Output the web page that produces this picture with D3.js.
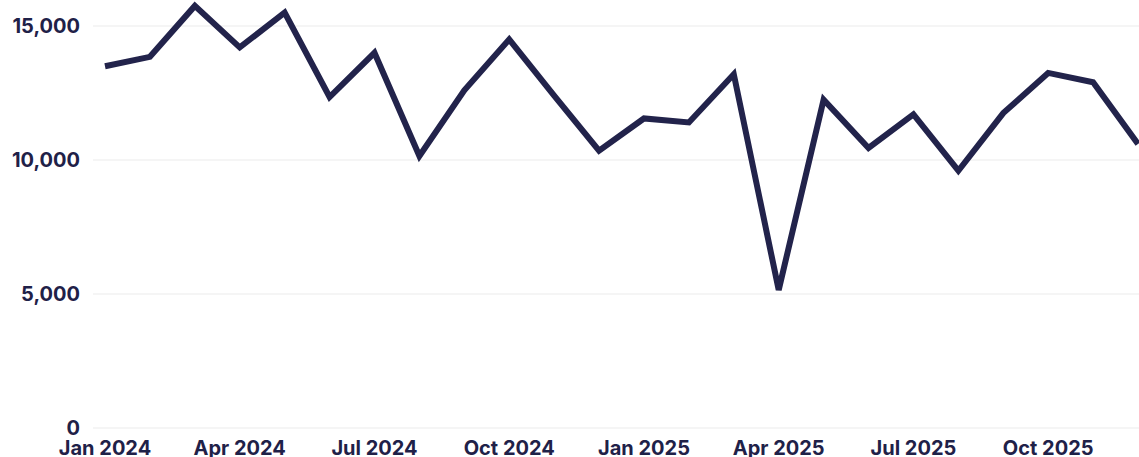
<!DOCTYPE html>
<html>
<head>
<meta charset="utf-8">
<script src="https://cdn.jsdelivr.net/npm/d3@7"></script>
<style>
  html, body { margin: 0; padding: 0; background: #fff; }
  #chart { width: 1139px; height: 457px; }
  text { font-family: Inter, "Open Sans", sans-serif; font-weight: 700; fill: #1f2148; }
</style>
</head>
<body>
<div id="chart"></div>
<script>
const months = ['Jan 2024', 'Feb 2024', 'Mar 2024', 'Apr 2024', 'May 2024', 'Jun 2024',
  'Jul 2024', 'Aug 2024', 'Sep 2024', 'Oct 2024', 'Nov 2024', 'Dec 2024',
  'Jan 2025', 'Feb 2025', 'Mar 2025', 'Apr 2025', 'May 2025', 'Jun 2025',
  'Jul 2025', 'Aug 2025', 'Sep 2025', 'Oct 2025', 'Nov 2025', 'Dec 2025'];
const values = [13500, 13850, 15750, 14200, 15500, 12350,
  14000, 10150, 12600, 14500, 12400, 10350,
  11550, 11400, 13200, 5150, 12250, 10450,
  11700, 9600, 11750, 13250, 12900, 10600];
const xTickLabels = ['Jan 2024', 'Apr 2024', 'Jul 2024', 'Oct 2024', 'Jan 2025', 'Apr 2025', 'Jul 2025', 'Oct 2025'];
const yTicks = [0, 5000, 10000, 15000];

const width = 1139, height = 457;
const svg = d3.select('#chart').append('svg')
  .attr('width', width).attr('height', height);

const x = d3.scalePoint().domain(months).range([105, 1138]);
const y = d3.scaleLinear().domain([0, 15000]).range([428, 26]);

// grid
svg.append('g').selectAll('line')
  .data(yTicks)
  .enter()
  .append('line')
  .attr('x1', 93).attr('x2', width)
  .attr('y1', d => y(d)).attr('y2', d => y(d))
  .attr('stroke', '#ebebeb').attr('stroke-width', 1);

// y labels
svg.append('g').selectAll('text')
  .data(yTicks)
  .enter()
  .append('text')
  .attr('x', 80).attr('y', d => y(d))
  .attr('text-anchor', 'end')
  .attr('dominant-baseline', 'central')
  .style('font-size', '20px')
  .text(d => d3.format(',')(d));

// x labels
svg.append('g').selectAll('text')
  .data(xTickLabels)
  .enter()
  .append('text')
  .attr('x', d => x(d)).attr('y', 448)
  .attr('text-anchor', 'middle')
  .attr('dominant-baseline', 'central')
  .style('font-size', '20px')
  .text(d => d);

const line = d3.line()
  .x((d, i) => x(months[i]))
  .y(d => y(d));

svg.append('path')
  .datum(values)
  .attr('d', line)
  .attr('fill', 'none')
  .attr('stroke', '#22234b')
  .attr('stroke-width', 6)
  .attr('stroke-linejoin', 'miter');
</script>
</body>
</html>
